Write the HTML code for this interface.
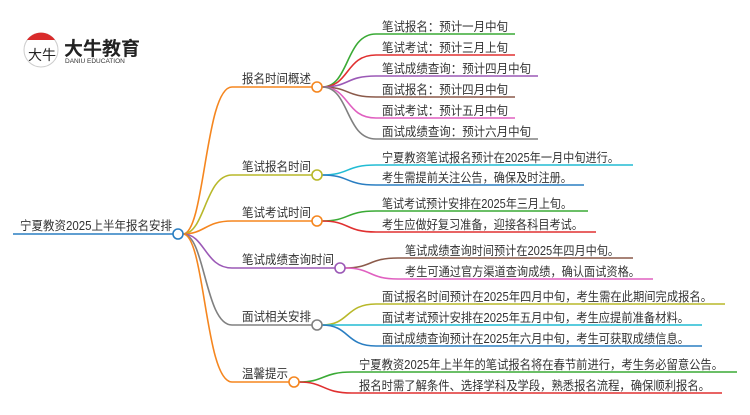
<!DOCTYPE html>
<html><head><meta charset="utf-8"><style>
body{margin:0;background:#fff}
svg text{font-family:"Liberation Sans","Noto Sans CJK SC",sans-serif;fill:#333}
</style></head><body>
<svg width="750" height="410" viewBox="0 0 750 410" xmlns="http://www.w3.org/2000/svg">
<!-- logo -->
<circle cx="41" cy="50" r="17" fill="#fff" stroke="#ccc" stroke-width="1"/>
<path d="M27 40 A17 17 0 0 1 55 40 Z" fill="#d92b2b"/>
<text x="28" y="60" font-size="14" style="fill:#222">大牛</text>
<text x="64" y="55" font-size="19" font-weight="bold" style="fill:#222">大牛教育</text>
<text x="65" y="63" font-size="6.5" style="fill:#333">DANIU EDUCATION</text>
<g fill="none" stroke-width="1.6">
<path d="M13 234 H173" stroke="#2a7ec2"/>
<path d="M183 234 C205 234,205 87,232 87 H312" stroke="#f5861f"/>
<path d="M183 234 C205 234,205 175,232 175 H312" stroke="#b8b82a"/>
<path d="M183 234 C205 234,205 221,232 221 H312" stroke="#f5861f"/>
<path d="M183 234 C205 234,205 268,232 268 H335" stroke="#9b59b6"/>
<path d="M183 234 C205 234,205 325,232 325 H312" stroke="#808080"/>
<path d="M183 234 C205 234,205 382,232 382 H289" stroke="#f5861f"/>
<path d="M322 87 C350 87,345 34,376 34 H515" stroke="#3aaa35"/>
<path d="M322 87 C350 87,345 55,376 55 H515" stroke="#e03030"/>
<path d="M322 87 C350 87,345 76,376 76 H538" stroke="#9b59b6"/>
<path d="M322 87 C350 87,345 97,376 97 H515" stroke="#8b5a4a"/>
<path d="M322 87 C350 87,345 118,376 118 H515" stroke="#e060c0"/>
<path d="M322 87 C350 87,345 139,376 139 H538" stroke="#808080"/>
<path d="M322 175 C350 175,345 165,376 165 H633" stroke="#22bcd4"/>
<path d="M322 175 C350 175,345 185,376 185 H584" stroke="#2a7ec2"/>
<path d="M322 221 C350 221,345 211,376 211 H588" stroke="#3aaa35"/>
<path d="M322 221 C350 221,345 232,376 232 H596" stroke="#e03030"/>
<path d="M345 268 C372 268,368 258,398 258 H633" stroke="#8b5a4a"/>
<path d="M345 268 C372 268,368 279,398 279 H653" stroke="#e060c0"/>
<path d="M322 325 C350 325,345 304,376 304 H725" stroke="#b8b82a"/>
<path d="M322 325 H702" stroke="#22bcd4"/>
<path d="M322 325 C350 325,345 346,376 346 H702" stroke="#2a7ec2"/>
<path d="M299 382 C325 382,322 372,352 372 H737" stroke="#3aaa35"/>
<path d="M299 382 C325 382,322 393,352 393 H722" stroke="#e03030"/>
</g>
<g fill="#fff" stroke-width="1.6">
<circle cx="178" cy="234" r="5" stroke="#2a7ec2"/>
<circle cx="317" cy="87" r="5" stroke="#f5861f"/>
<circle cx="317" cy="175" r="5" stroke="#b8b82a"/>
<circle cx="317" cy="221" r="5" stroke="#f5861f"/>
<circle cx="340" cy="268" r="5" stroke="#9b59b6"/>
<circle cx="317" cy="325" r="5" stroke="#808080"/>
<circle cx="294" cy="382" r="5" stroke="#f5861f"/>
</g>
<g font-size="12.5" lengthAdjust="spacingAndGlyphs">
<text x="20" y="230" textLength="152" lengthAdjust="spacingAndGlyphs">宁夏教资2025上半年报名安排</text>
<text x="242" y="83" textLength="69" lengthAdjust="spacingAndGlyphs">报名时间概述</text>
<text x="242" y="171" textLength="69" lengthAdjust="spacingAndGlyphs">笔试报名时间</text>
<text x="242" y="217" textLength="69" lengthAdjust="spacingAndGlyphs">笔试考试时间</text>
<text x="242" y="264" textLength="92" lengthAdjust="spacingAndGlyphs">笔试成绩查询时间</text>
<text x="242" y="321" textLength="69" lengthAdjust="spacingAndGlyphs">面试相关安排</text>
<text x="242" y="378" textLength="46" lengthAdjust="spacingAndGlyphs">温馨提示</text>
<text x="382" y="31" textLength="126" lengthAdjust="spacingAndGlyphs">笔试报名：预计一月中旬</text>
<text x="382" y="52" textLength="126" lengthAdjust="spacingAndGlyphs">笔试考试：预计三月上旬</text>
<text x="382" y="73" textLength="149" lengthAdjust="spacingAndGlyphs">笔试成绩查询：预计四月中旬</text>
<text x="382" y="94" textLength="126" lengthAdjust="spacingAndGlyphs">面试报名：预计四月中旬</text>
<text x="382" y="115" textLength="126" lengthAdjust="spacingAndGlyphs">面试考试：预计五月中旬</text>
<text x="382" y="136" textLength="149" lengthAdjust="spacingAndGlyphs">面试成绩查询：预计六月中旬</text>
<text x="382" y="162" textLength="237" lengthAdjust="spacingAndGlyphs">宁夏教资笔试报名预计在2025年一月中旬进行。</text>
<text x="382" y="182" textLength="190" lengthAdjust="spacingAndGlyphs">考生需提前关注公告，确保及时注册。</text>
<text x="382" y="208" textLength="190" lengthAdjust="spacingAndGlyphs">笔试考试预计安排在2025年三月上旬。</text>
<text x="382" y="229" textLength="201" lengthAdjust="spacingAndGlyphs">考生应做好复习准备，迎接各科目考试。</text>
<text x="405" y="255" textLength="214" lengthAdjust="spacingAndGlyphs">笔试成绩查询时间预计在2025年四月中旬。</text>
<text x="405" y="276" textLength="235" lengthAdjust="spacingAndGlyphs">考生可通过官方渠道查询成绩，确认面试资格。</text>
<text x="382" y="301" textLength="330" lengthAdjust="spacingAndGlyphs">面试报名时间预计在2025年四月中旬，考生需在此期间完成报名。</text>
<text x="382" y="322" textLength="307" lengthAdjust="spacingAndGlyphs">面试考试预计安排在2025年五月中旬，考生应提前准备材料。</text>
<text x="382" y="343" textLength="307" lengthAdjust="spacingAndGlyphs">面试成绩查询预计在2025年六月中旬，考生可获取成绩信息。</text>
<text x="359" y="369" textLength="364" lengthAdjust="spacingAndGlyphs">宁夏教资2025年上半年的笔试报名将在春节前进行，考生务必留意公告。</text>
<text x="359" y="390" textLength="351" lengthAdjust="spacingAndGlyphs">报名时需了解条件、选择学科及学段，熟悉报名流程，确保顺利报名。</text>
</g>
</svg>
</body></html>
